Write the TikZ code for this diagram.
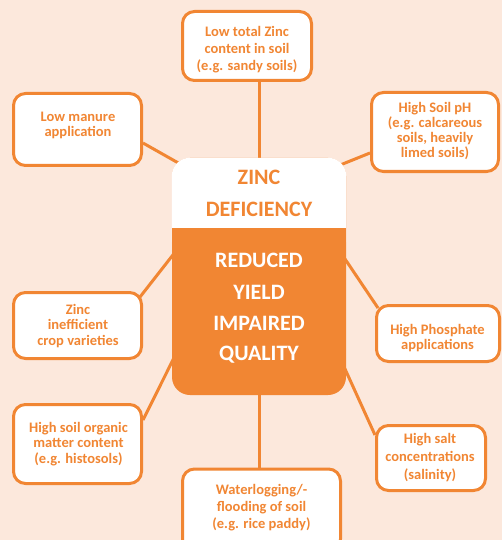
\documentclass[tikz,border=0pt]{standalone}
\usepackage{fontspec}
\setmainfont{Carlito}
\usetikzlibrary{calc}
\definecolor{peach}{RGB}{252,232,220}
\definecolor{zorange}{RGB}{241,134,51}
\pgfdeclarelayer{bg}
\pgfsetlayers{bg,main}
\begin{document}
\begin{tikzpicture}[x=1pt,y=-1pt,
  cause/.style={draw=zorange, line width=3pt, fill=white, rounded corners=12pt, inner sep=0pt},
  ctext/.style={text=zorange, font=\fontsize{14.5}{15.5}\selectfont\bfseries, align=center, inner sep=0pt},
  link/.style={draw=zorange, line width=3pt},
  bigo/.style={text=zorange, font=\fontsize{22}{26}\selectfont\bfseries, inner sep=0pt, text height=14.2pt, text depth=0pt},
  bigw/.style={bigo, text=white}]
\useasboundingbox (0,0) rectangle (502,540);
\clip (0,0) rectangle (502,540);

% boxes
\node[cause, minimum width=129pt, minimum height=69pt] (top) at (247,46) {};
\node[cause, minimum width=128pt, minimum height=72pt] (lm) at (77.5,129.5) {};
\node[cause, minimum width=127pt, minimum height=79pt] (hp) at (435,132) {};
\node[cause, minimum width=128pt, minimum height=66pt] (zi) at (77.5,325.5) {};
\node[cause, minimum width=123pt, minimum height=56pt] (ph) at (438,333.5) {};
\node[cause, minimum width=128pt, minimum height=79pt] (so) at (77.5,444) {};
\node[cause, minimum width=109pt, minimum height=65pt] (hs) at (431,458) {};
\node[cause, minimum width=158pt, minimum height=82pt] (wl) at (261.5,510) {};

% centre box
\node[fill=zorange, rounded corners=18pt, minimum width=174pt, minimum height=237pt, inner sep=0pt] (core) at (259,276.5) {};
\fill[white, rounded corners=18pt] (core.north west) rectangle ($(core.north east)+(0,100)$);
\fill[zorange] ($(core.north west)+(0,70)$) rectangle ($(core.north east)+(0,110)$);

% connectors
\begin{pgfonlayer}{bg}
\fill[peach] (0,0) rectangle (502,540);
\draw[link] (core.north) -- (core.north |- top.south);
\draw[link] ($(lm.east)+(0,13.5)$) -- ($(core.north west)+(8,6)$);
\draw[link] ($(hp.west)+(0,21)$) -- ($(core.north east)+(-8,8)$);
\draw[link] ($(zi.north east)+(-3,6)$) -- ($(core.north west)+(2,96)$);
\draw[link] ($(ph.north west)+(3,4)$) -- ($(core.north east)+(-2,100)$);
\draw[link] ($(so.east)+(0,-24)$) -- ($(core.south west)+(2,-37)$);
\draw[link] ($(hs.west)+(0,-23)$) -- ($(core.south east)+(-2,-28)$);
\draw[link] (core.south) -- (core.south |- wl.north);
\end{pgfonlayer}

% texts
\node[ctext, font=\fontsize{14.5}{17}\selectfont\bfseries] (t1) at (247,50) {Low total Zinc\\content in soil\\(e.g. sandy soils)};
\node[ctext, font=\fontsize{14.5}{15}\selectfont\bfseries] (t2) at (78,125) {Low manure\\application};
\node[ctext, font=\fontsize{14.5}{15}\selectfont\bfseries] (t3) at (435,131) {High Soil pH\\(e.g. calcareous\\soils, heavily\\limed soils)};
\node[ctext] (t4) at (78,326) {Zinc\\inefficient\\crop varieties};
\node[ctext] (t5) at (437.5,338) {High Phosphate\\applications};
\node[ctext] (t6) at (78.5,444) {High soil organic\\matter content\\(e.g. histosols)};
\node[ctext, font=\fontsize{14.5}{18}\selectfont\bfseries] (t7) at (430,457.5) {High salt\\concentrations\\(salinity)};
\node[ctext, font=\fontsize{14.5}{17}\selectfont\bfseries] (t8) at (261.5,508) {Waterlogging/-\\flooding of soil\\(e.g. rice paddy)};

\node[bigo] (c1) at (259,177) {ZINC};
\node[bigo] (c2) at (259,209) {DEFICIENCY};
\node[bigw] (c3) at (259,260) {REDUCED};
\node[bigw] (c4) at (259,292) {YIELD};
\node[bigw] (c5) at (259,323) {IMPAIRED};
\node[bigw] (c6) at (259,353) {QUALITY};
\end{tikzpicture}
\end{document}
